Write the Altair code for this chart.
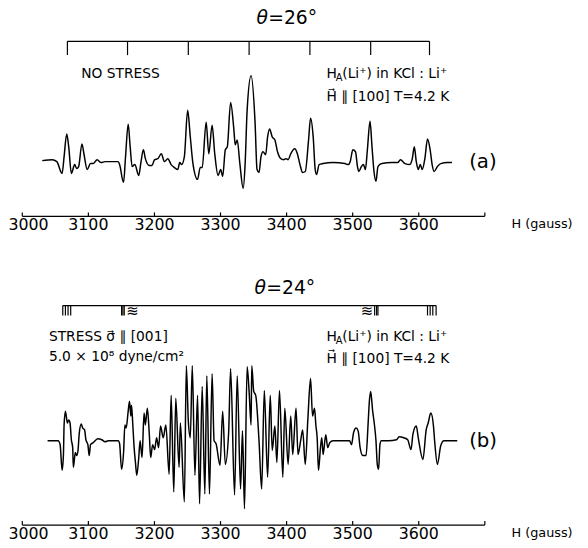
import altair as alt
import pandas as pd

FONT = "DejaVu Sans"
TICKS = [3000, 3100, 3200, 3300, 3400, 3500, 3600, 3700]

# ---------------- spectrum (a), theta = 26 deg, no stress ----------------
A_H = [3031, 3046, 3053, 3061, 3064, 3068, 3071, 3075, 3080, 3083,
       3086, 3091, 3094, 3099, 3104, 3108, 3114, 3120, 3126, 3146,
       3148, 3154, 3157, 3161, 3164, 3167, 3171, 3177, 3180, 3184,
       3187, 3193, 3197, 3201, 3206, 3211, 3216, 3221, 3226, 3231,
       3236, 3239, 3242, 3246, 3251, 3255, 3259, 3266, 3270, 3273,
       3279, 3283, 3288, 3292, 3297, 3301, 3304, 3308, 3311, 3316,
       3321, 3323, 3326, 3330, 3335, 3338, 3341, 3347, 3353, 3356,
       3359, 3362, 3365, 3369, 3372, 3375, 3379, 3383, 3387, 3392,
       3396, 3400, 3403, 3407, 3413, 3417, 3421, 3425, 3429, 3434,
       3437, 3441, 3444, 3446, 3450, 3456, 3471, 3489, 3494, 3497,
       3501, 3505, 3508, 3510, 3514, 3517, 3520, 3523, 3527, 3530,
       3533, 3536, 3539, 3545, 3560, 3569, 3573, 3580, 3587, 3591,
       3594, 3597, 3600, 3603, 3606, 3610, 3614, 3618, 3621, 3624,
       3629, 3634, 3644, 3651]
A_AMP = [1, 2, 0, -12, 5, 28, 15, -12, -3, -7,
         -5, 18, 8, -8, -2, -2, 2, -1, 0, 0,
         -3, -21, 5, 38, 15, -5, -3, -14, -2, 12,
         3, -4, -4, 2, 3, 8, 0, 3, -3, -6,
         -8, -1, -3, 5, 52, 25, -2, -18, -6, -6,
         40, 8, 37, 8, -14, -8, -15, 12, 15, 60,
         32, 17, 22, -2, -27, -2, 52, 87, 40, -8,
         -11, 5, 10, 7, 25, 33, 25, 22, 10, 3,
         2, 3, 2, 8, 13, 8, -3, -11, -10, 22,
         44, 25, -8, -13, -3, -2, -1, -2, -3, 0,
         12, 10, -5, -10, -5, -3, -8, 12, 41, 15,
         -10, -20, -5, -2, -1, -1, 2, -2, -3, 3,
         15, 0, -8, -3, -8, 3, 23, 12, -3, -10,
         -5, -2, -1, -1]

# ---------------- spectrum (b), theta = 24 deg, stress ----------------
B_H = [3039, 3051, 3055, 3058, 3061, 3063, 3064, 3066, 3069, 3071,
       3073, 3075, 3077, 3078, 3081, 3083, 3085, 3087, 3090, 3092,
       3095, 3097, 3100, 3102, 3104, 3108, 3115, 3121, 3126, 3131,
       3146, 3148, 3151, 3154, 3156, 3158, 3161, 3163, 3165, 3166,
       3168, 3170, 3172, 3174, 3177, 3179, 3182, 3185, 3187, 3190,
       3193, 3195, 3198, 3201, 3204, 3207, 3210, 3214, 3218, 3223,
       3226, 3230, 3233, 3238, 3240, 3246, 3249, 3252, 3255, 3258,
       3262, 3266, 3269, 3273, 3277, 3280, 3284, 3288, 3291, 3294,
       3300, 3304, 3308, 3313, 3316, 3322, 3326, 3331, 3334, 3337,
       3341, 3344, 3347, 3348, 3351, 3354, 3359, 3363, 3367, 3372,
       3376, 3379, 3383, 3386, 3390, 3395, 3398, 3403, 3407, 3410,
       3415, 3418, 3422, 3425, 3429, 3433, 3437, 3440, 3443, 3445,
       3447, 3449, 3452, 3454, 3456, 3460, 3463, 3466, 3471, 3496,
       3499, 3502, 3506, 3509, 3512, 3516, 3521, 3524, 3526, 3528,
       3531, 3533, 3536, 3538, 3540, 3542, 3544, 3555, 3567, 3571,
       3578, 3584, 3589, 3592, 3597, 3600, 3607, 3612, 3615, 3619,
       3623, 3625, 3629, 3634, 3639, 3659]
B_AMP = [0, 0, 0, -4, -30, -14, 16, 30, 18, 21,
         18, 1, -7, -27, -12, -15, -10, 8, 17, 13,
         11, 1, -4, -15, -4, -2, 2, 1, -1, 0,
         0, -3, -29, -12, 16, 13, 30, 40, 25, 36,
         16, -7, -22, -35, -17, 0, -17, 28, 16, 33,
         6, -17, -4, -9, 3, -7, 15, 3, 16, -34,
         46, -52, 43, -27, 18, -62, 76, 20, 3, 76,
         -35, 46, -64, 55, -54, 66, -54, 68, 0, -3,
         -25, 30, -24, 8, 73, -55, 66, -49, 10, -69,
         75, 50, 16, 76, 50, 46, 0, -49, 51, -37,
         46, -10, 15, -22, 51, -37, 33, -24, 25, -14,
         33, -14, 0, 11, -24, 23, 63, 25, 33, 16,
         3, -30, -7, 3, -14, 6, -7, -2, 0, 0,
         -4, 8, 13, 10, -7, -15, -15, 16, 40, 50,
         30, 20, 0, -24, -29, -4, 0, 0, 1, 4,
         3, 1, -9, 7, 15, 3, -19, 11, 18, 28,
         15, -2, -24, -5, 0, 0]

# ---------------- line diagrams above the spectra ----------------
A_STICKS = [3069, 3160, 3252, 3344, 3436, 3528, 3617]
A_STICK_TOP, A_STICK_BOTTOM = 122, 108
B_STICKS = [3062, 3066, 3070, 3074, 3151, 3153, 3155,
            3534, 3537, 3539, 3614, 3618, 3622, 3627]
B_STICK_TOP, B_STICK_BOTTOM = 137, 127

# ---------------- annotations (H position, amplitude level, text, font size) ----------------
A_TEXT = [
    (3373, 146, "=26°", 19),
    (3090, 89, "NO STRESS", 14),
    (3461, 89, "H", 14),
    (3475, 85, "A", 10),
    (3485, 89, "(Li⁺) in KCl : Li⁺", 14),
    (3461, 65, "H⃗ ∥ [100]   T=4.2 K", 14),
    (3677, 0, "(a)", 20),
]
A_ITALIC = [(3355, 146, "θ", 19)]
B_TEXT = [
    (3370, 155, "=24°", 19),
    (3041, 105, "STRESS σ⃗ ∥ [001]", 14),
    (3041, 85, "5.0 × 10⁸ dyne/cm²", 14),
    (3461, 105, "H", 14),
    (3475, 101, "A", 10),
    (3485, 105, "(Li⁺) in KCl : Li⁺", 14),
    (3461, 83, "H⃗ ∥ [100]   T=4.2 K", 14),
    (3677, 0, "(b)", 20),
    (3158, 131, "≋", 15),
    (3513, 131, "≋", 15),
]
B_ITALIC = [(3352, 155, "θ", 19)]

A_DOMAIN = [-368, 152]
B_DOMAIN = [-85, 435]


def h_axis(offset):
    return alt.Axis(
        orient="top", offset=offset, values=TICKS, format="d",
        labelExpr="datum.value >= 3700 ? '' : datum.label",
        tickSize=4, tickWidth=1.2, tickColor="black",
        domainColor="black", domainWidth=1.2, grid=False,
        labelPadding=-5, labelBaseline="top", labelOffset=0,
        labelFont=FONT, labelFontSize=16, labelColor="black",
        labelFlush=True, labelFlushOffset=14, labelOverlap=False,
        title="H (gauss)", titleX=496, titleY=2, titleAlign="left",
        titleBaseline="top", titleFont=FONT, titleFontSize=13,
        titleFontWeight="normal", titleColor="black", titleAngle=0,
    )


def panel(H, AMP, sticks, s_top, s_bot, texts, italics, domain, offset):
    ax = h_axis(offset)
    xs = alt.Scale(domain=[3000, 3700], nice=False, zero=False)
    ys = alt.Scale(domain=domain, nice=False, zero=False)
    x = alt.X("H:Q", scale=xs, axis=ax)
    trace_df = pd.DataFrame({"H": H, "amp": AMP})
    trace = alt.Chart(trace_df).mark_line(
        color="black", strokeWidth=1.5, interpolate="monotone"
    ).encode(x=x, y=alt.Y("amp:Q", scale=ys, axis=None))

    line_df = pd.DataFrame({"H": [min(sticks)], "H2": [max(sticks)], "lvl": [s_top]})
    sline = alt.Chart(line_df).mark_rule(color="black", strokeWidth=1.2).encode(
        x=x, x2="H2:Q", y=alt.Y("lvl:Q", scale=ys, axis=None))
    tick_df = pd.DataFrame({"H": sticks, "top": [s_top] * len(sticks),
                            "bot": [s_bot] * len(sticks)})
    sticks_l = alt.Chart(tick_df).mark_rule(color="black", strokeWidth=1.2).encode(
        x=x, y=alt.Y("top:Q", scale=ys, axis=None), y2="bot:Q")

    def text_layer(rows, style):
        df = pd.DataFrame(rows, columns=["H", "amp", "text", "size"])
        return alt.Chart(df).mark_text(
            align="left", baseline="middle", font=FONT, color="black", fontStyle=style
        ).encode(x=x, y=alt.Y("amp:Q", scale=ys, axis=None), text="text:N",
                 size=alt.Size("size:Q", scale=None, legend=None))

    return alt.layer(trace, sline, sticks_l, text_layer(texts, "normal"),
                     text_layer(italics, "italic"))


pa = panel(A_H, A_AMP, A_STICKS, A_STICK_TOP, A_STICK_BOTTOM, A_TEXT, A_ITALIC, A_DOMAIN, -207)
pb = panel(B_H, B_AMP, B_STICKS, B_STICK_TOP, B_STICK_BOTTOM, B_TEXT, B_ITALIC, B_DOMAIN, -520)

chart = alt.layer(pa, pb).resolve_scale(
    x="independent", y="independent"
).resolve_axis(x="independent").properties(
    width=469, height=520,
    padding={"left": 14, "top": 0, "right": 97, "bottom": 20},
    autosize=alt.AutoSizeParams(type="none"),
    background="white",
).configure_view(stroke=None)

chart.save("out.html", embed_options={"renderer": "svg", "actions": False})
